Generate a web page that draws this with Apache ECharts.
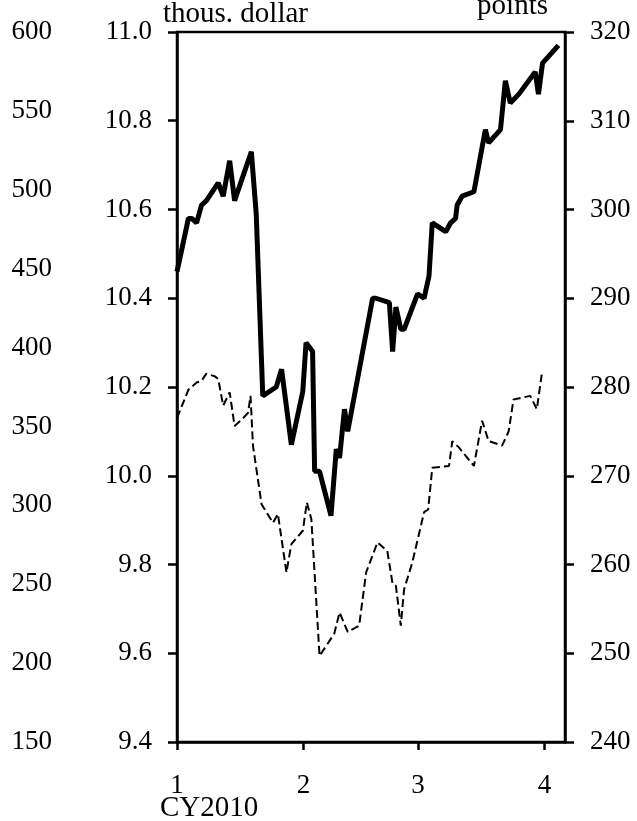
<!DOCTYPE html>
<html>
<head>
<meta charset="utf-8">
<title>CY2010</title>
<script src="https://cdn.jsdelivr.net/npm/echarts@6/dist/echarts.min.js"></script>
<style>
  html, body { margin: 0; padding: 0; background: #fff; }
  #chart { width: 637px; height: 821px; }
</style>
</head>
<body>
<div id="chart"></div>
<script>
  // x = days since 1 Jan 2010, month ticks at 1,2,3,4
  var monthStarts = [0, 31, 59, 90]
  var monthLabels = ['1', '2', '3', '4']

  // solid line, thous. dollar (left axis)
  var solidDays = [0, 2.8, 3.6, 4.8, 6.0, 7.2, 10.1, 11.3, 12.9, 14.1, 18.2, 19.4, 21.0, 24.3, 25.6,
    28.0, 30.8, 31.6, 33.2, 33.7, 34.9, 37.7, 39.0, 39.8, 41.0, 41.8, 47.9, 48.7, 52.0, 52.8,
    53.6, 54.8, 55.6, 58.9, 60.5, 61.7, 62.5, 65.8, 67.0, 68.2, 68.6, 69.8, 72.7, 75.5, 76.3,
    79.2, 80.4, 81.6, 83.7, 87.7, 88.5, 89.5, 93.4]
  var solidVals = [10.46, 10.58, 10.58, 10.57, 10.61, 10.62, 10.66, 10.63, 10.71, 10.62, 10.73, 10.59, 10.18, 10.20, 10.24,
    10.07, 10.19, 10.30, 10.28, 10.01, 10.01, 9.91, 10.06, 10.04, 10.15, 10.10, 10.40, 10.40, 10.39, 10.28,
    10.38, 10.33, 10.33, 10.41, 10.40, 10.45, 10.57, 10.55, 10.57, 10.58, 10.61, 10.63, 10.64, 10.78, 10.75,
    10.78, 10.89, 10.84, 10.86, 10.91, 10.86, 10.93, 10.97]

  // dashed line, points (right axis)
  var dashDays = [0, 2.8, 4.8, 6.0, 7.2, 9.3, 10.1, 11.3, 12.9, 14.1, 16.2, 17.4, 18.0, 18.6, 20.7,
    23.5, 24.7, 26.8, 28.0, 30.8, 31.8, 32.9, 34.9, 38.5, 39.8, 41.8, 44.6, 46.3, 49.1, 51.5,
    52.8, 53.6, 54.8, 55.6, 57.6, 60.5, 61.5, 62.5, 66.6, 67.4, 69.0, 72.7, 74.7, 76.3, 79.6,
    81.2, 82.4, 86.5, 88.1, 89.3]
  var dashVals = [276.5, 279.7, 280.5, 280.7, 281.5, 281.2, 280.9, 277.9, 279.4, 275.6, 276.5, 277.1, 279.0, 273.4, 266.8,
    264.7, 265.7, 259.1, 262.3, 263.8, 267.0, 265.1, 249.7, 252.2, 254.6, 252.4, 253.1, 259.1, 262.5, 261.5,
    257.8, 257.6, 253.1, 257.2, 260.2, 265.9, 266.2, 270.9, 271.1, 273.9, 273.2, 271.1, 276.2, 273.9, 273.4,
    275.0, 278.6, 279.0, 277.5, 281.4]

  var FONT = 'Liberation Serif'
  var FS = 27        // tick labels
  var TITLE_FS = 29  // axis names

  function zip(a, b) {
    return a.map(function (d, i) { return [d, b[i]] })
  }

  var chart = echarts.init(document.getElementById('chart'))
  chart.setOption({
    animation: false,
    grid: {
      left: 177, right: 72, top: 32, bottom: 79,
      show: true, borderColor: '#000', borderWidth: 2.5, backgroundColor: 'transparent'
    },
    xAxis: {
      type: 'value',
      min: 0,
      max: 95,
      splitLine: { show: false },
      axisLine: { lineStyle: { color: '#000', width: 2.5 } },
      axisTick: { customValues: monthStarts, length: 8, lineStyle: { color: '#000', width: 2.5 } },
      axisLabel: {
        customValues: monthStarts,
        formatter: function (v) { return monthLabels[monthStarts.indexOf(v)] },
        color: '#000', fontFamily: FONT, fontSize: FS, margin: 30
      }
    },
    yAxis: [
      {   // thous. dollar
        type: 'value', position: 'left',
        min: 9.4, max: 11.0, interval: 0.2,
        splitLine: { show: false },
        axisLine: { show: true, lineStyle: { color: '#000', width: 2.5 } },
        axisTick: { show: true, length: 9, lineStyle: { color: '#000', width: 2.5 } },
        axisLabel: {
          formatter: function (v) { return v.toFixed(1) },
          color: '#000', fontFamily: FONT, fontSize: FS, margin: 25
        }
      },
      {   // outer left scale
        type: 'value', position: 'left', offset: 100,
        min: 150, max: 600, interval: 50,
        splitLine: { show: false },
        axisLine: { show: false },
        axisTick: { show: false },
        axisLabel: { color: '#000', fontFamily: FONT, fontSize: FS, margin: 25 }
      },
      {   // points
        type: 'value', position: 'right',
        min: 240, max: 320, interval: 10,
        splitLine: { show: false },
        axisLine: { show: true, lineStyle: { color: '#000', width: 2.5 } },
        axisTick: { show: true, length: 9, lineStyle: { color: '#000', width: 2.5 } },
        axisLabel: { color: '#000', fontFamily: FONT, fontSize: FS, margin: 25 }
      }
    ],
    series: [
      {
        type: 'line', yAxisIndex: 0,
        symbol: 'none',
        lineStyle: { color: '#000', width: 5 },
        data: zip(solidDays, solidVals)
      },
      {
        type: 'line', yAxisIndex: 2,
        symbol: 'none',
        lineStyle: { color: '#000', width: 2, type: [8, 4] },
        data: zip(dashDays, dashVals)
      }
    ],
    graphic: [
      { type: 'text', style: { x: 163, y: 14, text: 'thous. dollar', fill: '#000', font: TITLE_FS + 'px "' + FONT + '"', verticalAlign: 'middle' } },
      { type: 'text', style: { x: 548, y: 6, text: 'points', fill: '#000', font: TITLE_FS + 'px "' + FONT + '"', align: 'right', verticalAlign: 'middle' } },
      { type: 'text', style: { x: 160, y: 808, text: 'CY2010', fill: '#000', font: TITLE_FS + 'px "' + FONT + '"', verticalAlign: 'middle' } }
    ]
  })
</script>
</body>
</html>
